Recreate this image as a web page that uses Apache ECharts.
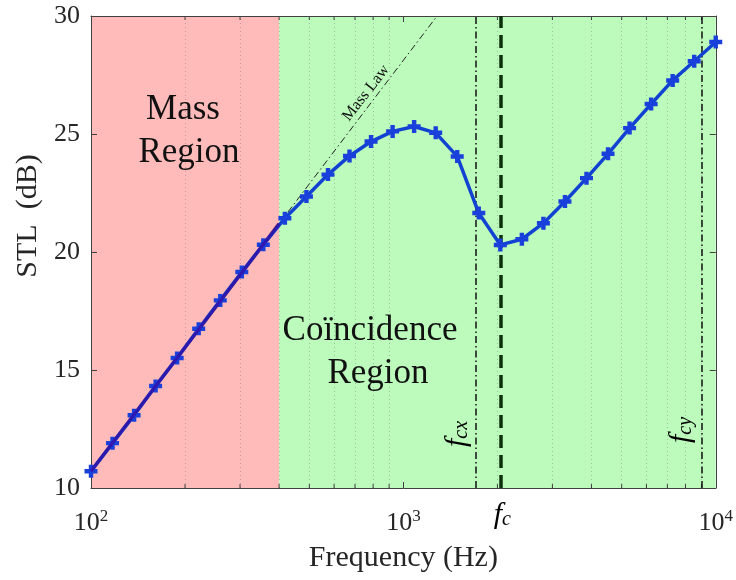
<!DOCTYPE html>
<html><head><meta charset="utf-8">
<script src="https://cdn.jsdelivr.net/npm/echarts@6/dist/echarts.min.js"></script>
<style>html,body{margin:0;padding:0;background:#fff}#c{width:736px;height:580px}</style>
</head><body><div id="c"></div>
<script>
// ---- data ----
const freqHz = [100, 117.2, 137.4, 161.0, 188.7, 221.2, 259.3, 303.9, 356.2, 417.5,
  489.4, 573.6, 672.3, 788.0, 923.7, 1082.6, 1269.0, 1487.4, 1743.3, 2043.4,
  2395.0, 2807.2, 3290.3, 3856.6, 4520.3, 5298.3, 6210.2, 7279.0, 8531.7, 10000];
const stlDb = [10.71, 11.90, 13.08, 14.32, 15.51, 16.75, 17.95, 19.15, 20.31, 21.43,
  22.35, 23.28, 24.07, 24.68, 25.11, 25.32, 25.05, 24.05, 21.65, 20.30,
  20.54, 21.22, 22.14, 23.13, 24.16, 25.25, 26.27, 27.27, 28.08, 28.90];
const massLawHz = [100, 400, 1265];
const massLawDb = [10.71, 21.2, 29.9];
const minorHz = [200, 300, 400, 500, 600, 700, 800, 900, 2000, 3000, 4000, 5000, 6000, 7000, 8000, 9000];
const regionEdgesHz = [100, 400, 10000];
const fcxHz = 1710, fcHz = 2043, fcyHz = 9040;
const yMin = 10, yMax = 30, yStep = 5;

const FONT = 'Liberation Serif';
const AX = '#404040';
const chart = echarts.init(document.getElementById('c'));

const option = {
  animation: false,
  grid: {left: 91, right: 19, top: 16, bottom: 92},
  xAxis: [{
    type: 'log', logBase: 10, min: regionEdgesHz[0], max: regionEdgesHz[2], position: 'bottom', z: 1,
    axisLine: {show: true, lineStyle: {color: AX, width: 1}},
    axisTick: {show: true, inside: true, length: 6, lineStyle: {color: AX}},
    axisLabel: {margin: 20, formatter: v => '{b|10}{e|' + Math.round(Math.log10(v)) + '}',
      rich: {b: {fontFamily: FONT, fontSize: 26, color: '#262626', lineHeight: 30},
             e: {fontFamily: FONT, fontSize: 17, color: '#262626', lineHeight: 14, verticalAlign: 'top'}}},
    splitLine: {show: true, lineStyle: {color: 'rgba(0,0,0,0.12)', width: 1}},
    name: 'Frequency (Hz)', nameLocation: 'middle', nameGap: 55,
    nameTextStyle: {fontFamily: FONT, fontSize: 30, color: '#262626'}
  }, {
    type: 'log', logBase: 10, min: regionEdgesHz[0], max: regionEdgesHz[2], position: 'top', z: 1,
    axisLine: {show: true, lineStyle: {color: AX, width: 1}},
    axisTick: {show: true, inside: true, length: 6, lineStyle: {color: AX}},
    axisLabel: {show: false}, splitLine: {show: false}
  }],
  yAxis: [{
    type: 'value', min: yMin, max: yMax, interval: yStep, z: 1,
    axisLine: {show: true, lineStyle: {color: AX, width: 1}},
    axisTick: {show: true, inside: true, length: 6, lineStyle: {color: AX}},
    axisLabel: {margin: 11, fontFamily: FONT, fontSize: 26, color: '#262626'},
    splitLine: {show: true, lineStyle: {color: 'rgba(0,0,0,0.12)', width: 1}},
    name: 'STL  (dB)', nameLocation: 'middle', nameGap: 47,
    nameTextStyle: {fontFamily: FONT, fontSize: 30, color: '#262626', padding: [0, 0, 0, 72]}
  }, {
    type: 'value', min: yMin, max: yMax, interval: yStep, position: 'right', z: 1,
    axisLine: {show: true, lineStyle: {color: AX, width: 1}},
    axisTick: {show: true, inside: true, length: 6, lineStyle: {color: AX}},
    axisLabel: {show: false}, splitLine: {show: false}
  }],
  series: [
    { // background regions
      type: 'scatter', data: [], z: 0, silent: true,
      markArea: {silent: true, data: [
        [{xAxis: regionEdgesHz[0], itemStyle: {color: '#ffbaba', opacity: 1}}, {xAxis: regionEdgesHz[1]}],
        [{xAxis: regionEdgesHz[1], itemStyle: {color: '#bcfbbc', opacity: 1}}, {xAxis: regionEdgesHz[2]}]
      ]}
    },
    { // minor dotted grid
      type: 'scatter', data: [], z: 1, silent: true,
      markLine: {silent: true, symbol: ['none', 'none'], label: {show: false},
        lineStyle: {color: 'rgba(0,0,0,0.2)', type: [1, 3], width: 1},
        data: minorHz.map(v => ({xAxis: v}))}
    },
    { // minor ticks bottom/top
      type: 'custom', z: 2, silent: true,
      data: minorHz.map(v => [v, yMin]),
      renderItem: (params, api) => {
        const p = api.coord([api.value(0), yMin]);
        const cs = params.coordSys;
        return {type: 'group', children: [
          {type: 'line', shape: {x1: p[0], y1: cs.y + cs.height, x2: p[0], y2: cs.y + cs.height - 4}, style: {stroke: AX, lineWidth: 1}},
          {type: 'line', shape: {x1: p[0], y1: cs.y, x2: p[0], y2: cs.y + 4}, style: {stroke: AX, lineWidth: 1}}
        ]};
      }
    },
    { // mass law (solid part)
      type: 'line', z: 3, silent: true, symbol: 'none',
      data: [[massLawHz[0], massLawDb[0]], [massLawHz[1], massLawDb[1]]],
      lineStyle: {color: '#000', width: 2.5}
    },
    { // mass law (extension)
      type: 'line', z: 3, silent: true, symbol: 'none',
      data: [[massLawHz[1], massLawDb[1]], [massLawHz[2], massLawDb[2]]],
      lineStyle: {color: '#222', width: 1, type: [7, 3, 1.5, 3]}
    },
    { // coincidence frequency markers
      type: 'scatter', data: [], z: 4, silent: true,
      markLine: {silent: true, symbol: ['none', 'none'], label: {show: false},
        data: [
          {xAxis: fcxHz, lineStyle: {color: '#111', width: 1.5, type: [7, 3, 1.5, 3]}},
          {xAxis: fcyHz, lineStyle: {color: '#111', width: 1.5, type: [7, 3, 1.5, 3]}},
          {xAxis: fcHz, lineStyle: {color: '#0c300c', width: 3.5, type: [13, 7]}}
        ]}
    },
    { // STL
      type: 'line', z: 5, name: 'STL',
      data: freqHz.map((f, i) => [f, stlDb[i]]),
      color: '#1242d2',
      lineStyle: {width: 3.5, color: '#1242d2'},
      itemStyle: {color: '#1a40dc'},
      symbol: 'path://M3.3,0H6.7V3.3H10V6.7H6.7V10H3.3V6.7H0V3.3H3.3Z', symbolSize: 13,
      showAllSymbol: true
    },
    { // mass-region tint over STL (blend with mass law line beneath)
      type: 'line', z: 6, silent: true, symbol: 'none',
      data: [[massLawHz[0], massLawDb[0]], [massLawHz[1], massLawDb[1]]],
      lineStyle: {color: 'rgba(60,0,150,0.6)', width: 3.5}
    }
  ]
};
try { chart.setOption(option); } catch (e) { console.error(e); }

const px = (f, y) => chart.convertToPixel({xAxisIndex: 0, yAxisIndex: 0}, [f, y]);
const italicRich = {
  f: {fontFamily: FONT, fontStyle: 'italic', fontSize: 30, lineHeight: 30, color: '#111'},
  s: {fontFamily: FONT, fontStyle: 'italic', fontSize: 20, lineHeight: 12, verticalAlign: 'bottom', color: '#111'}
};
const txt = (x, y, text, size, rot) => ({
  type: 'text', x: x, y: y, rotation: rot || 0, silent: true, z: 10,
  style: {text: text, fontFamily: FONT, fontSize: size, fill: '#111', align: 'center', verticalAlign: 'middle'}
});
const pFcx = px(fcxHz, 11), pFcy = px(fcyHz, 11), pFc = px(fcHz, 10);
chart.setOption({graphic: [
  txt(183, 110, 'Mass', 35),
  txt(189, 153, 'Region', 35),
  txt(370, 331, 'Coïncidence', 35),
  txt(378, 374, 'Region', 35),
  txt(366, 93, 'Mass Law', 16, 52 * Math.PI / 180),
  {type: 'text', x: pFcx[0] - 19, y: 434, rotation: Math.PI / 2, silent: true, z: 10,
   style: {text: '{f|f}{s|cx}', rich: italicRich, align: 'center', verticalAlign: 'middle'}},
  {type: 'text', x: pFcy[0] - 21, y: 430, rotation: Math.PI / 2, silent: true, z: 10,
   style: {text: '{f|f}{s|cy}', rich: italicRich, align: 'center', verticalAlign: 'middle'}},
  {type: 'text', x: pFc[0] + 2, y: pFc[1] + 27, silent: true, z: 10,
   style: {text: '{f|f}{s|c}', rich: italicRich, align: 'center', verticalAlign: 'middle'}}
]});
</script></body></html>
